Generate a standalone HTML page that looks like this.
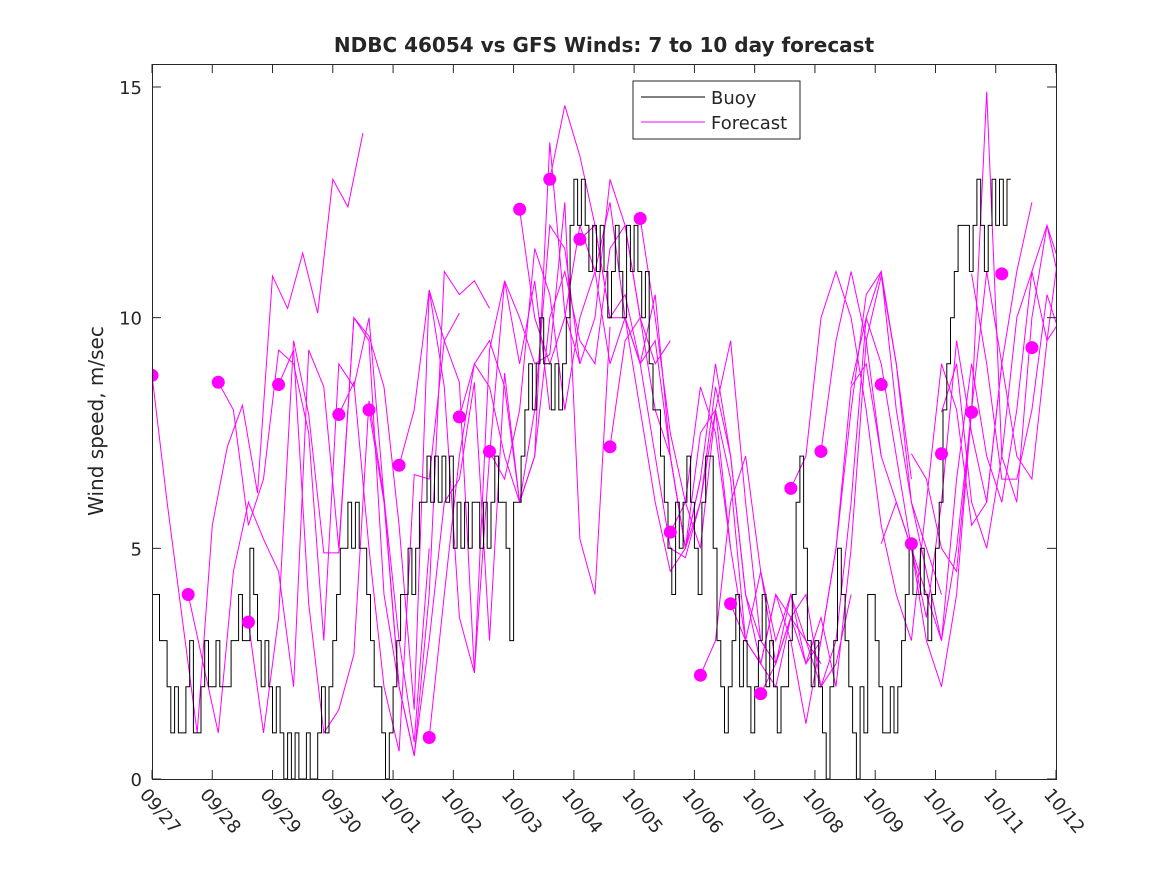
<!DOCTYPE html>
<html><head><meta charset="utf-8">
<style>
body{margin:0;background:#fff;}
svg text{font-family:"DejaVu Sans","Liberation Sans",sans-serif;fill:#262626;}
</style></head>
<body>
<svg id="chart" width="1167" height="875" xmlns="http://www.w3.org/2000/svg">
<rect width="1167" height="875" fill="#fff"/>
<text x="604" y="52" text-anchor="middle" font-size="20" font-weight="bold" fill="#000">NDBC 46054 vs GFS Winds: 7 to 10 day forecast</text>
<text transform="translate(103,421) rotate(-90)" text-anchor="middle" font-size="20">Wind speed, m/sec</text>
<g id="plot"></g>
<g id="axes"></g>
<g>
<rect x="633" y="81" width="167" height="58" fill="#fff" stroke="#262626" stroke-width="1"/>
<line x1="641" y1="97" x2="705" y2="97" stroke="#000"/>
<text x="711" y="104" font-size="18">Buoy</text>
<line x1="641" y1="122" x2="705" y2="122" stroke="#f0f"/>
<text x="711" y="129" font-size="18">Forecast</text>
</g>
</svg>
<script>
const xTickLabels=["09/27","09/28","09/29","09/30","10/01","10/02","10/03","10/04","10/05","10/06","10/07","10/08","10/09","10/10","10/11","10/12"];
const yTicks=[0,5,10,15];
const buoyStep=0.0625;
const buoy=[4,4,3,3,2,1,2,1, 1,2,3,1,1,2,3,2,
2,3,2,2,2,3,3,4, 3,3,5,4,3,2,3,2,
1,2,1,0,1,0,1,0, 0,1,0,0,1,2,1,2,
3,4,5,5,6,5,6,5, 5,4,3,2,2,1,0,1,
2,3,4,4,5,4,5,6, 6,7,6,7,6,7,6,7,
5,6,5,6,5,6,6,5, 6,5,6,7,6,6,5,3,
6,6,7,8,9,8,9,10, 9,9,8,9,8,9,10,12,
13,12,13,12,11,12,11,12, 11,10,11,12,11,10,12,11,
12,11,10,11,9,8,8,7, 6,5,4,6,5,6,7,6,
5,4,6,7,7,5,3,2, 1,2,3,4,2,3,2,1,
2,3,4,2,3,2,1,2, 2,3,4,6,7,5,3,2,
3,2,1,0,2,3,5,4, 3,2,1,0,2,1,4,4,
3,2,1,1,2,1,2,3, 4,5,4,4,5,4,3,4,
5,6,8,9,10,11,12,12, 12,11,12,13,12,11,12,13,
12,13,12,13];
const fcStep=0.25;
const fcStarts=[0,0.6,1.1,1.6,2.1,3.1,3.6,4.1,4.6,5.1,5.6,6.1,6.6,7.1,7.6,8.1,8.6,9.1,9.6,10.1,10.6,11.1,11.6,12.1,12.6,13.1,13.6];
const fcValues=[
[8.75,6.0,3.5,1.0,5.5,7.2,8.1,6.2,10.9,10.2,11.4,10.1,13.0,12.4,14.0],
[4.0,2.5,1.0,4.5,6.0,5.2,4.5,2.0,9.3,8.5,5.0,10.0,9.5,4.0,2.0],
[8.6,8.0,5.5,6.5,9.3,9.0,7.5,3.0,9.0,8.5,10.0,6.1,3.0,0.8,5.0],
[3.4,1.0,3.5,9.5,7.9,4.9,4.9,10.0,9.6,8.5,5.5,1.5,10.6,9.5,10.1],
[8.55,9.3,3.8,1.0,1.5,2.7,8.2,6.1,2.0,0.5,4.0,11.0,10.5,10.8,10.2],
[7.9,8.6,5.0,2.0,0.6,6.6,6.5,9.5,8.6,2.3,9.3,10.8,9.0,10.8,8.0],
[8.0,6.0,2.0,0.5,3.0,6.0,6.5,8.6,3.0,8.8,6.0,7.0,13.8,10.1,9.0],
[6.8,8.0,10.6,8.5,3.5,2.3,7.0,10.8,10.0,9.0,9.2,12.5,5.2,4.0,9.8],
[0.9,4,7,9,9.5,8.5,6,7,10,11,9.5,9,11.5,12,10],
[7.85,9,8.5,7,6,8,12,11.5,9,10,13,12,10,9,9.5],
[7.1,6.5,8,11.5,10.5,8,10,11,12.5,10,9,9.5,7,5,6.5],
[12.35,10,9,10,12,11,9,10,8,6,4.5,5,7.5,8,5],
[13,14.6,13.5,12,10,10.5,9,7,5,4.8,6,8.5,7,4,3],
[11.7,12,10,10,9,10.5,7,5,6,8,6.5,3,2.5,4,3.5],
[7.2,9.5,10,8,7,5,6.5,9,7,4,2.5,2,3.5,3,2.5],
[12.15,10,7.5,6,5,8,9.5,6,3,2.5,4,3,2,2.5,4],
[5.35,6,8.5,7.5,5,3,2.5,4,3,1.2,3,5,8.5,9,7],
[2.25,3,6,7,4.5,3,4,2.5,3.5,2,5,9.5,10.9,9,6.5],
[3.8,3,4.5,2.5,3.5,4,2,3,6,10,11,9,6,5,4],
[1.85,2.5,3.5,2.5,3,5,8,10.5,11,8,6,4.5,3,5,8],
[6.3,7,10,11,10,8,5.5,4,3,6,9,8,5.5,6,9],
[7.1,9.5,11,9.5,7,6,5,3.5,6,9.5,7.5,6,9,11,12.5],
[8.55,10,9,7,5,3,2,4,8,14.9,7,6,10,12,11],
[5.1,6,5,4,3,6.5,9,7,6,8,11,12,10.5,9,11],
[7.05,6.5,5,4.5,8,11,9,7,6.5,9.5,12,11,12.5],
[7.95,9,6,5,7,10,11,9.5,10,12,14,13.5],
[10.95,9,6.5,6.5,8,10.5,9.5,11,12.5,14.2,13.8]
];
const dotDays=[0,0.6,1.1,1.6,2.1,3.1,3.6,4.1,4.6,5.1,5.6,6.1,6.6,7.1,7.6,8.1,8.6,9.1,9.6,10.1,10.6,11.1,12.1,12.6,13.1,13.6,14.1,14.6];
const dotVals=[8.75,4.0,8.6,3.4,8.55,7.9,8.0,6.8,0.9,7.85,7.1,12.35,13.0,11.7,7.2,12.15,5.35,2.25,3.8,1.85,6.3,7.1,8.55,5.1,7.05,7.95,10.95,9.35];
const dotCount=28;

const X0=152,X1=1056,Y0=779,Y1=64,DAYS=15;
const xs=d=>X0+(X1-X0)*d/DAYS;
const ys=v=>Y0-(Y0-87)*v/15;
const NS="http://www.w3.org/2000/svg";
const plot=document.getElementById('plot');
const axes=document.getElementById('axes');
function mk(tag,attrs,parent){const e=document.createElementNS(NS,tag);for(const k in attrs)e.setAttribute(k,attrs[k]);parent.appendChild(e);return e;}
const defs=mk('defs',{},plot);
const cp=mk('clipPath',{id:'clip'},defs);
mk('rect',{x:X0,y:Y1,width:X1-X0,height:Y0-Y1},cp);
const g=mk('g',{'clip-path':'url(#clip)'},plot);
fcValues.forEach((vals,i)=>{
  let d='';
  vals.forEach((v,j)=>{const day=fcStarts[i]+j*fcStep;d+=(j?'L':'M')+xs(day).toFixed(1)+','+ys(v).toFixed(1);});
  const p=mk('path',{d:d,fill:'none',stroke:'#f0f','stroke-width':1},g);
  
  
});
let bd='';
buoy.forEach((v,i)=>{const x0=xs(i*buoyStep),x1=xs((i+1)*buoyStep);bd+=(i?'L':'M')+x0.toFixed(1)+','+ys(v).toFixed(1)+'L'+x1.toFixed(1)+','+ys(v).toFixed(1);});
const bp=mk('path',{d:bd,fill:'none',stroke:'#000','stroke-width':1},g);


for(let i=0;i<dotCount;i++){
  const c=mk('circle',{cx:xs(dotDays[i]),cy:ys(dotVals[i]),r:6.5,fill:'#f0f'},g);
  
  
}
mk('rect',{x:X0+0.5,y:Y1+0.5,width:X1-X0,height:Y0-Y1,fill:'none',stroke:'#262626','stroke-width':1},axes);
xTickLabels.forEach((lab,i)=>{
  const x=xs(i);
  mk('line',{x1:x,y1:Y0,x2:x,y2:Y0-9,stroke:'#262626'},axes);
  mk('line',{x1:x,y1:Y1,x2:x,y2:Y1+9,stroke:'#262626'},axes);
  const t=mk('text',{transform:`translate(${x-13},${Y0+16}) rotate(50)`,'font-size':18},axes);
  t.textContent=lab;
  
  
});
yTicks.forEach(v=>{
  const y=ys(v);
  mk('line',{x1:X0,y1:y,x2:X0+9,y2:y,stroke:'#262626'},axes);
  mk('line',{x1:X1,y1:y,x2:X1-9,y2:y,stroke:'#262626'},axes);
  const t=mk('text',{x:X0-10,y:y+7,'text-anchor':'end','font-size':18},axes);
  t.textContent=v;
  
  
});
</script>
</body></html>
